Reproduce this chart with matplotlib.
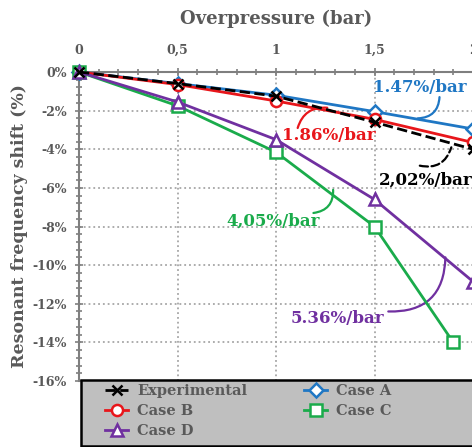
import matplotlib.pyplot as plt
from matplotlib.ticker import MultipleLocator, FuncFormatter
from matplotlib.patches import Rectangle

# data (overpressure in bar, shift in %)
p = [0, 0.5, 1, 1.5, 2]
p_c = [0, 0.5, 1, 1.5, 1.9]
exp_vals = [0, -0.6, -1.25, -2.6, -4.0]
case_a = [0, -0.6, -1.2, -2.05, -2.95]
case_b = [0, -0.65, -1.5, -2.45, -3.65]
case_c = [0, -1.75, -4.15, -8.0, -14.0]
case_d = [0, -1.55, -3.5, -6.6, -10.85]

grey = '#595959'
plt.rcParams['font.family'] = 'DejaVu Serif'
plt.rcParams['font.weight'] = 'bold'
plt.rcParams['axes.labelweight'] = 'bold'

fig = plt.figure(figsize=(4.72, 4.47), dpi=100)
ax = fig.add_axes([79/472, 66/447, 394/472, 309/447])
ax.set_xlim(0, 2)
ax.set_ylim(-16, 0)

blue, red, green, purple = '#1f77c4', '#e8161b', '#1aab4b', '#7030a0'
mk = dict(markersize=8, markerfacecolor='white', markeredgewidth=1.8, clip_on=False, zorder=4)

h_exp, = ax.plot(p, exp_vals, '--', color='black', lw=2, marker='x', markersize=7,
                 markeredgewidth=1.8, clip_on=False, zorder=5, label='Experimental')
h_a, = ax.plot(p, case_a, '-', color=blue, lw=2, marker='D', label='Case A', **dict(mk, markersize=7))
h_b, = ax.plot(p, case_b, '-', color=red, lw=2, marker='o', label='Case B', **mk)
h_c, = ax.plot(p_c, case_c, '-', color=green, lw=2, marker='s', label='Case C', **mk)
h_d, = ax.plot(p, case_d, '-', color=purple, lw=2, marker='^', label='Case D', **mk)

# axes styling
ax.xaxis.tick_top()
ax.xaxis.set_label_position('top')
ax.xaxis.set_major_locator(MultipleLocator(0.5))
ax.xaxis.set_minor_locator(MultipleLocator(0.1))
ax.yaxis.set_major_locator(MultipleLocator(2))
ax.yaxis.set_minor_locator(MultipleLocator(0.4))
ax.xaxis.set_major_formatter(FuncFormatter(lambda v, _: f'{v:g}'.replace('.', ',')))
ax.yaxis.set_major_formatter(FuncFormatter(lambda v, _: f'{v:.0f}%'))
ax.tick_params(which='both', colors='#7f7f7f', labelcolor=grey, labelsize=9, direction='inout')
ax.tick_params(which='major', length=6, width=1.2)
ax.tick_params(which='minor', length=4, width=1.2)
ax.tick_params(axis='x', pad=8)
ax.tick_params(axis='y', pad=6)
for s in ['bottom', 'right']:
    ax.spines[s].set_visible(False)
for s in ['top', 'left']:
    ax.spines[s].set_color('#7f7f7f')
    ax.spines[s].set_linewidth(1.5)
ax.grid(True, which='major', linestyle=':', color='#a6a6a6', lw=1.3)

ax.set_xlabel('Overpressure (bar)', fontsize=13, color=grey, labelpad=14)
ax.set_ylabel('Resonant frequency shift (%)', fontsize=12.5, color=grey, labelpad=3)

# slope annotations: text, then a curved connector from start to the line
def note(text, pos, start, end, color, rad, ls='-'):
    ax.text(pos[0], pos[1], text, color=color, fontsize=12, ha='center', va='center', zorder=6)
    ax.annotate('', xy=end, xytext=start,
                arrowprops=dict(arrowstyle='-', color=color, lw=1.6, linestyle=ls,
                                connectionstyle=f'arc3,rad={rad}', shrinkA=0, shrinkB=0))

note('1.47%/bar', (1.73, -0.78), (1.83, -1.3), (1.72, -2.4), blue, -0.45)
note('1.86%/bar', (1.27, -3.3), (1.11, -2.9), (1.26, -1.85), red, -0.4)
note('2,02%/bar', (1.76, -5.6), (1.73, -4.85), (1.89, -3.9), 'black', 0.45, ls='--')
note('4,05%/bar', (0.985, -7.7), (1.19, -7.3), (1.29, -6.1), green, 0.45)
note('5.36%/bar', (1.31, -12.75), (1.57, -12.4), (1.86, -9.6), purple, 0.5)

# legend box
fig.patches.append(Rectangle((81/472, 1/447), 0.9, 66/447, transform=fig.transFigure,
                             facecolor='#bfbfbf', edgecolor='black', lw=1.8, zorder=10))
handles = [h_exp, h_b, h_d, h_a, h_c]
leg = fig.legend(handles=handles, labels=[h.get_label() for h in handles], ncol=2,
                 loc='upper left', bbox_to_anchor=(105/472, 1 - 384/447),
                 frameon=False, fontsize=10.5, handlelength=1.6, labelspacing=0.42,
                 borderpad=0, columnspacing=3.9, handletextpad=0.6, borderaxespad=0)
leg.set_zorder(11)
for t in leg.get_texts():
    t.set_color(grey)

fig.savefig('out.png', dpi=100)
